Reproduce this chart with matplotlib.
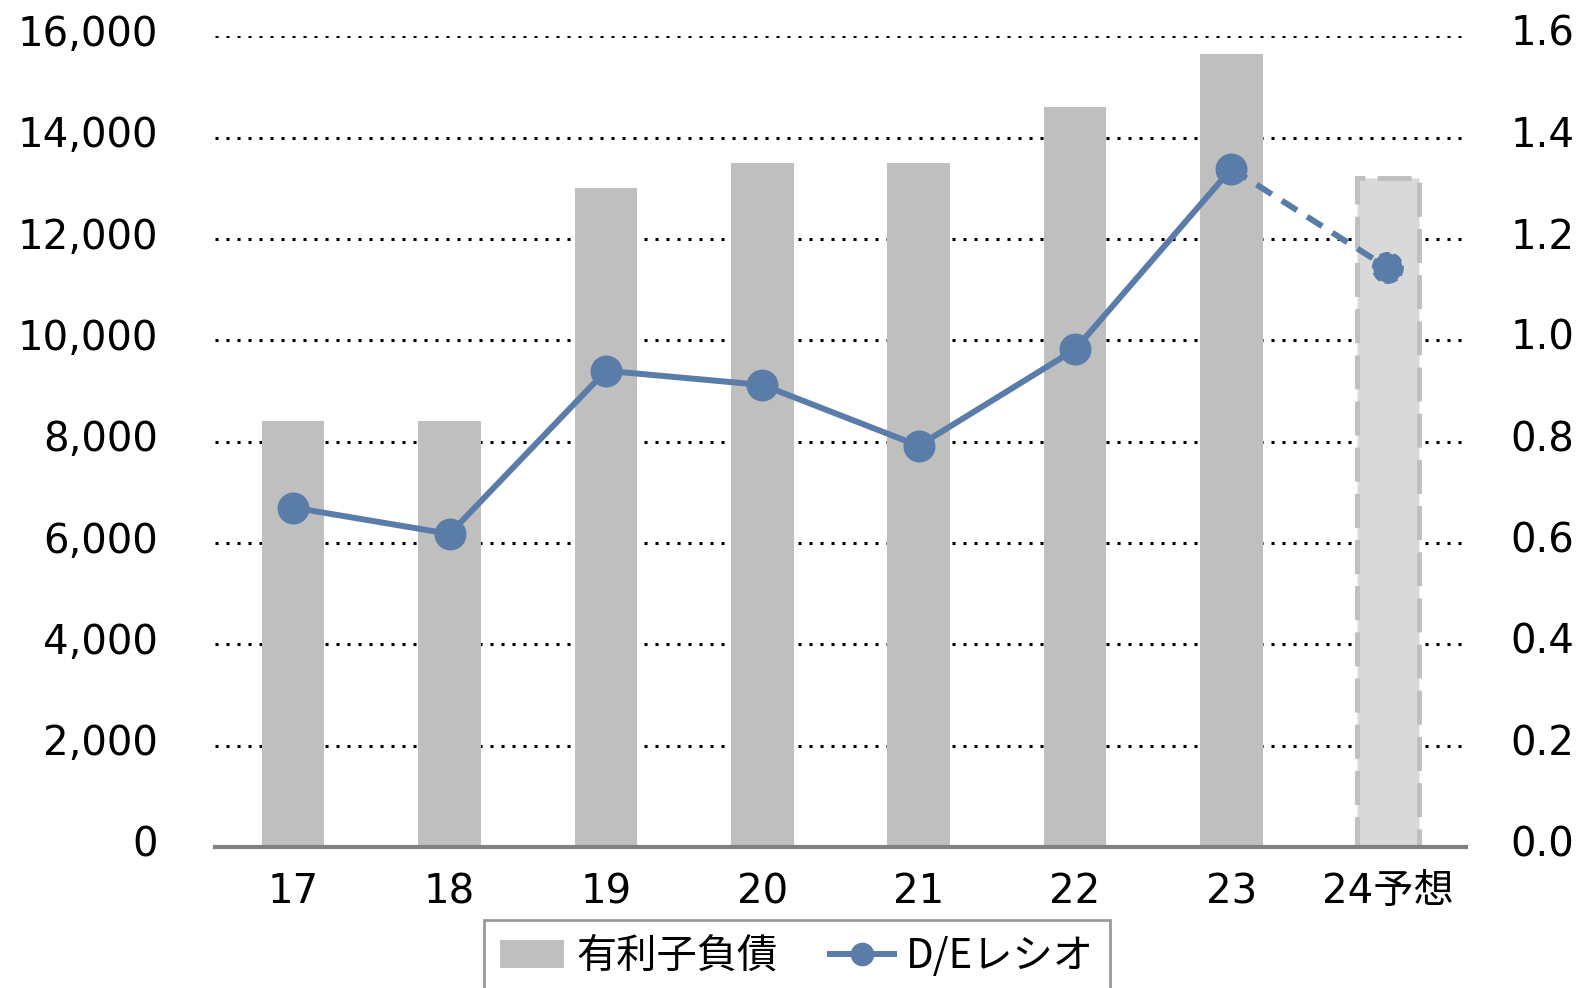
import matplotlib
matplotlib.use("Agg")
import matplotlib.pyplot as plt
import matplotlib.transforms as mtransforms
from matplotlib.patches import Patch
from matplotlib.lines import Line2D

plt.rcParams['font.family'] = ['DejaVu Sans', 'Noto Sans CJK JP']

# data
years = ['17', '18', '19', '20', '21', '22', '23', '24予想']
debt = [8400, 8400, 13000, 13500, 13500, 14600, 15650, 13200]
de_ratio = [0.67, 0.618, 0.94, 0.912, 0.792, 0.982, 1.339, 1.143]
left_ticks = [0, 2000, 4000, 6000, 8000, 10000, 12000, 14000, 16000]
right_ticks = [0.0, 0.2, 0.4, 0.6, 0.8, 1.0, 1.2, 1.4, 1.6]

bar_col = '#bfbfbf'
fc_col = '#d9d9d9'
line_col = '#5a7ca8'
fs = 29

fig = plt.figure(figsize=(15.85, 9.88), dpi=100)
ax = fig.add_axes([215/1585, 1-847/988, (1466-215)/1585, (847-36.4)/988])
x = list(range(len(years)))

# grid behind bars
for t in left_ticks[1:]:
    ax.axhline(t, color='black', linestyle=(0, (1, 2.6)), linewidth=2.2, zorder=0)

ax.bar(x[:-1], debt[:-1], width=0.4, color=bar_col, zorder=1)
ax.bar(x[-1], debt[-1], width=0.4, color=fc_col, edgecolor=bar_col,
       linewidth=3.5, linestyle=(0, (7, 2.5)), zorder=1)

ax.set_xlim(-0.5, len(years) - 0.5)
ax.set_ylim(0, 16000)
ax.set_yticks(left_ticks)
ax.set_yticklabels([f'{t:,}' for t in left_ticks])
ax.set_xticks(x)
ax.set_xticklabels(years)
for s in ['top', 'left', 'right']:
    ax.spines[s].set_visible(False)
ax.spines['bottom'].set_color('#808080')
ax.spines['bottom'].set_linewidth(3)
ax.tick_params(axis='both', length=0, labelsize=fs)
ax.tick_params(axis='y', pad=41)
ax.tick_params(axis='x', pad=18)

ax2 = ax.twinx()
ax2.set_ylim(0, 1.6)
ax2.set_yticks(right_ticks)
ax2.set_yticklabels([f'{t:.1f}' for t in right_ticks])
ax2.tick_params(axis='y', length=0, labelsize=fs, pad=32)
for s in ax2.spines.values():
    s.set_visible(False)

# lift y labels a little, like the original
shift = mtransforms.ScaledTranslation(0, 0.06, fig.dpi_scale_trans)
for lab in ax.get_yticklabels() + ax2.get_yticklabels():
    lab.set_transform(lab.get_transform() + shift)

ax2.plot(x[:-1], de_ratio[:-1], color=line_col, linewidth=4.3, marker='o',
         markersize=22, zorder=3)
ax2.plot(x[-2:], de_ratio[-2:], color=line_col, linewidth=4.3,
         linestyle=(0, (3, 2)), zorder=3)
ax2.scatter([x[-1]], [de_ratio[-1]], s=21**2, color=line_col, edgecolor=line_col,
            linewidth=2, linestyle='--', zorder=4)

handles = [Patch(facecolor=bar_col, edgecolor='none'),
           Line2D([], [], color=line_col, linewidth=4.3, marker='o', markersize=16)]
leg = fig.legend(handles, ['有利子負債', 'D/Eレシオ'], loc='upper center',
                 bbox_to_anchor=(797/1585, 1-920/988), ncol=2, fontsize=fs,
                 frameon=True, fancybox=False, handlelength=1.6, handletextpad=0.3,
                 columnspacing=1.3, borderpad=0.4, borderaxespad=0)
leg.get_frame().set_edgecolor('#808080')
leg.get_frame().set_linewidth(2)
for t in leg.get_texts():
    t.set_family(['Noto Sans CJK JP', 'DejaVu Sans'])

fig.savefig('out.png', dpi=100)
